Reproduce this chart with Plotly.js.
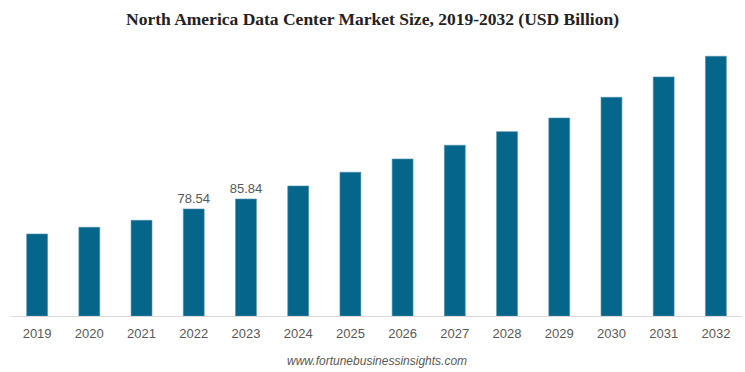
<!DOCTYPE html>
<html>
<head>
<meta charset="utf-8">
<script src="https://cdn.plot.ly/plotly-3.0.1.min.js"></script>
<style>html,body{margin:0;padding:0;background:#fff;}#chart{width:745px;height:372px;}</style>
</head>
<body>
<div id="chart"></div>
<script>
const years = ["2019","2020","2021","2022","2023","2024","2025","2026","2027","2028","2029","2030","2031","2032"];
const values = [60.2, 65.1, 70.2, 78.54, 85.84, 95.4, 105.5, 115.2, 125.3, 135.3, 145.3, 160.5, 175.4, 190.6];
const labels = ["", "", "", "78.54", "85.84", "", "", "", "", "", "", "", "", ""];

const trace = {
  type: "bar",
  x: years,
  y: values,
  text: labels,
  textposition: "outside",
  constraintext: "none",
  cliponaxis: false,
  textfont: {family: "Arial, Liberation Sans, sans-serif", size: 13, color: "#595959"},
  marker: {color: "#05658b", line: {color: "#4f8fab", width: 0.6}},
  hoverinfo: "none"
};

const layout = {
  width: 745,
  height: 372,
  margin: {l: 11, r: 3, t: 50, b: 56},
  paper_bgcolor: "#ffffff",
  plot_bgcolor: "#ffffff",
  bargap: 0.6,
  showlegend: false,
  title: {
    text: "<b>North America Data Center Market Size, 2019-2032 (USD Billion)</b>",
    font: {family: "Times New Roman, Liberation Serif, serif", size: 17.5, color: "#222222"},
    x: 0.5, xanchor: "center", y: 0.95, yanchor: "middle", yref: "container"
  },
  xaxis: {
    type: "category",
    range: [-0.5, 13.5],
    showgrid: false,
    zeroline: false,
    showline: true,
    linecolor: "#d9d9d9",
    linewidth: 1,
    ticks: "",
    ticklabelstandoff: 5,
    tickfont: {family: "Arial, Liberation Sans, sans-serif", size: 13, color: "#595959"},
    fixedrange: true
  },
  yaxis: {
    range: [0, 195.2],
    visible: false,
    showgrid: false,
    zeroline: false,
    fixedrange: true
  },
  annotations: [{
    text: "<i>www.fortunebusinessinsights.com</i>",
    xref: "paper", yref: "paper",
    x: 0.5, xanchor: "center",
    y: -0.168, yanchor: "middle",
    showarrow: false,
    font: {family: "Arial, Liberation Sans, sans-serif", size: 12, color: "#595959"}
  }]
};

Plotly.newPlot("chart", [trace], layout, {displayModeBar: false, staticPlot: true});
</script>
</body>
</html>
